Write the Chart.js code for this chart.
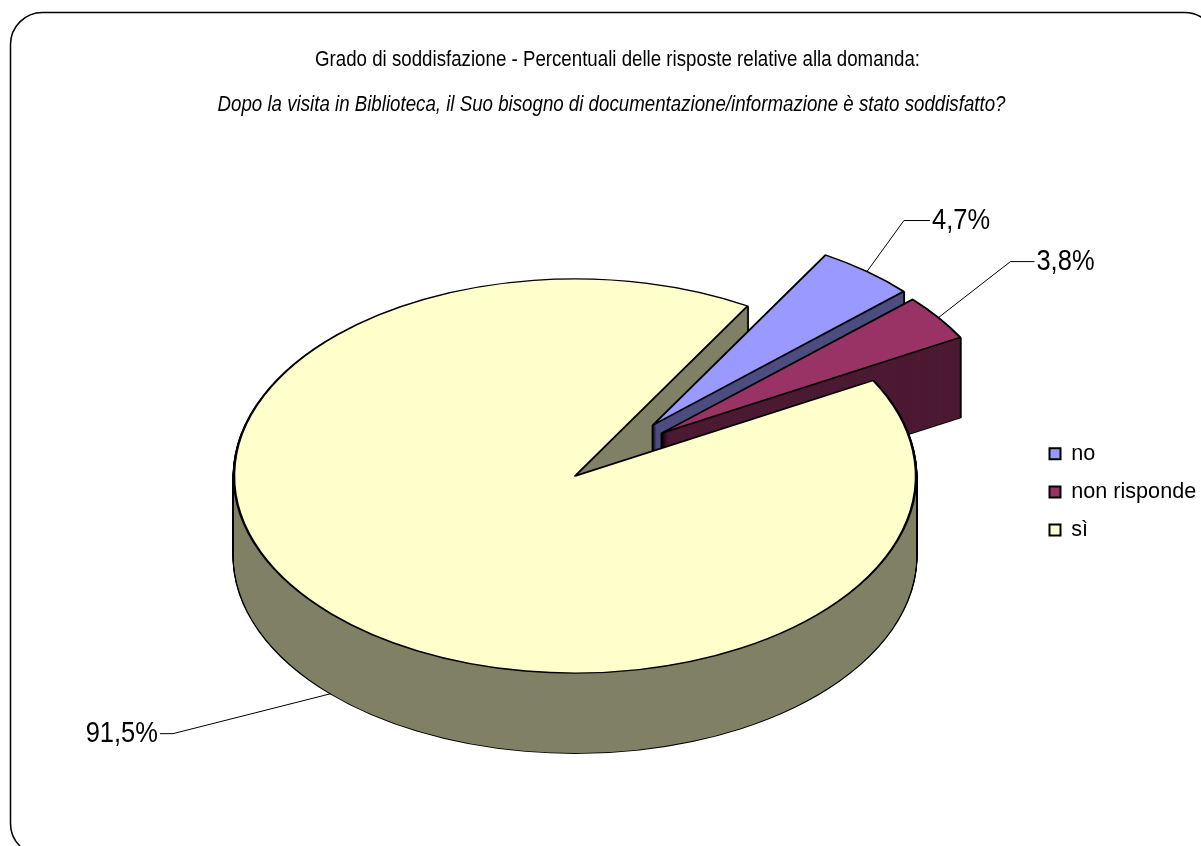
<!DOCTYPE html>
<html>
<head>
<meta charset="utf-8">
<script src="https://cdn.jsdelivr.net/npm/chart.js@4"></script>
<style>
  html, body { margin: 0; padding: 0; background: #fff; overflow: hidden; }
  canvas { display: block; }
</style>
</head>
<body>
<canvas id="pie-chart" width="1201" height="846"></canvas>
<script>
// data
const answers = ["no", "non risponde", "sì"];
const percentages = [4.7, 3.8, 91.5];
const topColors = ["#9999ff", "#993366", "#ffffcc"];
const wallColors = ["#4d4d80", "#4d1a33", "#808066"];
const chartTitle = "Grado di soddisfazione - Percentuali delle risposte relative alla domanda:";
const chartSubtitle = "Dopo la visita in Biblioteca, il Suo bisogno di documentazione/informazione è stato soddisfatto?";

const textFont = "'Liberation Sans', Arial, sans-serif";

// page look
const centerX = 575, centerY = 476, pieRadius = 341, squash = 0.578, pieDepth = 80;
const condense = 0.85; // original text is squeezed sideways, no narrow font installed
const explode = [{x: 78, y: -51}, {x: 87, y: -43}, {x: 0, y: 0}];
const leaders = [
  {dx: 37, dy: -51, run: 26, depth: 0},
  {dx: 72, dy: -56, run: 24, depth: 0},
  {dx: -158, dy: 40, run: -13, depth: pieDepth}
];

function arcStyle(fill, stroke, width) {
  return {
    backgroundColor: fill, borderColor: stroke, borderWidth: width,
    borderAlign: "center", borderJoinStyle: "round", borderDash: [], borderDashOffset: 0,
    spacing: 0, offset: 0, circular: true
  };
}

function drawSlice(ctx, arc, i, drop, style) {
  const saved = arc.options;
  arc.options = style;
  ctx.save();
  ctx.translate(arc.x + explode[i].x, arc.y + explode[i].y + drop);
  ctx.scale(1, squash);
  ctx.translate(-arc.x, -arc.y);
  arc.draw(ctx);
  ctx.restore();
  arc.options = saved;
}

function drawWall(ctx, arc, i) {
  for (let d = pieDepth; d > 0; d--) drawSlice(ctx, arc, i, d, arcStyle("#000", "#000", 3));
  for (let d = pieDepth; d > 0; d--) drawSlice(ctx, arc, i, d, arcStyle(wallColors[i], wallColors[i], 0));
}

// squeeze a title box around its own centre when it draws
function squeezeBox(box, ctx) {
  if (box.squeezed) return;
  box.squeezed = true;
  const draw = box.draw;
  box.draw = function (area) {
    const mid = (box.left + box.right) / 2;
    ctx.save();
    ctx.translate(mid, 0);
    ctx.scale(condense, 1);
    ctx.translate(-mid, 0);
    draw.call(box, area);
    ctx.restore();
  };
}

const tiltedPie = {
  id: "tiltedPie",
  beforeDraw(chart) {
    const ctx = chart.ctx;
    ctx.save();
    ctx.fillStyle = "#fff";
    ctx.fillRect(0, 0, chart.width, chart.height);
    ctx.beginPath();
    ctx.roundRect(10.5, 12.5, 1206, 843, 32);
    ctx.strokeStyle = "#000";
    ctx.lineWidth = 1.5;
    ctx.stroke();
    ctx.restore();
  },
  afterLayout(chart) {
    const area = chart.chartArea;
    area.left = centerX - pieRadius; area.right = centerX + pieRadius;
    area.top = centerY - pieRadius; area.bottom = centerY + pieRadius;
    area.width = pieRadius * 2; area.height = pieRadius * 2;
    const legend = chart.legend;
    legend.left = 1033; legend.right = 1201; legend.top = 426.5; legend.bottom = 846;
    chart.boxes.forEach(b => {
      if (b === chart.titleBlock) { b.left += 17; b.right += 17; squeezeBox(b, chart.ctx); }
      else if (b.options && b.options.font && b.options.font.style === "italic") { b.left += 11; b.right += 11; squeezeBox(b, chart.ctx); }
    });
  },
  beforeDatasetsDraw(chart) {
    const ctx = chart.ctx;
    const arcs = chart.getDatasetMeta(0).data;
    // walls first, the big slice's top then hides part of the exploded walls
    [2, 0, 1].forEach(i => drawWall(ctx, arcs[i], i));
    [2, 0, 1].forEach(i => drawSlice(ctx, arcs[i], i, 0, arcStyle(topColors[i], "#000", 2.5)));

    ctx.save();
    ctx.strokeStyle = "#000";
    ctx.fillStyle = "#000";
    ctx.lineWidth = 1;
    ctx.font = "30px " + textFont;
    ctx.textBaseline = "middle";
    arcs.forEach((arc, i) => {
      const mid = (arc.startAngle + arc.endAngle) / 2;
      const l = leaders[i];
      const x0 = arc.x + explode[i].x + Math.cos(mid) * pieRadius;
      const y0 = arc.y + explode[i].y + Math.sin(mid) * pieRadius * squash + l.depth;
      ctx.beginPath();
      ctx.moveTo(x0, y0);
      ctx.lineTo(x0 + l.dx, y0 + l.dy);
      ctx.lineTo(x0 + l.dx + l.run, y0 + l.dy);
      ctx.stroke();
      const side = l.run < 0 ? -1 : 1;
      ctx.textAlign = side < 0 ? "right" : "left";
      const text = percentages[i].toFixed(1).replace(".", ",") + "%";
      ctx.save();
      ctx.translate(x0 + l.dx + l.run + side * 2, y0 + l.dy);
      ctx.scale(condense, 1);
      ctx.fillText(text, 0, 0);
      ctx.restore();
    });
    ctx.restore();
    return false;
  }
};

new Chart(document.getElementById("pie-chart"), {
  type: "pie",
  data: {
    labels: answers,
    datasets: [{
      data: percentages,
      backgroundColor: topColors,
      borderColor: "#000",
      borderWidth: 2
    }]
  },
  options: {
    responsive: false,
    animation: false,
    rotation: 30.4,
    radius: pieRadius,
    plugins: {
      tooltip: { enabled: false },
      title: {
        display: true,
        text: chartTitle,
        color: "#000",
        font: { family: textFont, size: 22, weight: "normal" },
        padding: { top: 47, bottom: 18 }
      },
      subtitle: {
        display: true,
        text: chartSubtitle,
        color: "#000",
        font: { family: textFont, size: 22, style: "italic", weight: "normal" },
        padding: { top: 0, bottom: 0 }
      },
      legend: {
        position: "right",
        align: "start",
        labels: {
          boxWidth: 11,
          boxHeight: 11,
          padding: 16.5,
          color: "#000",
          font: { family: textFont, size: 21.6 }
        }
      }
    }
  },
  plugins: [tiltedPie]
});
</script>
</body>
</html>
